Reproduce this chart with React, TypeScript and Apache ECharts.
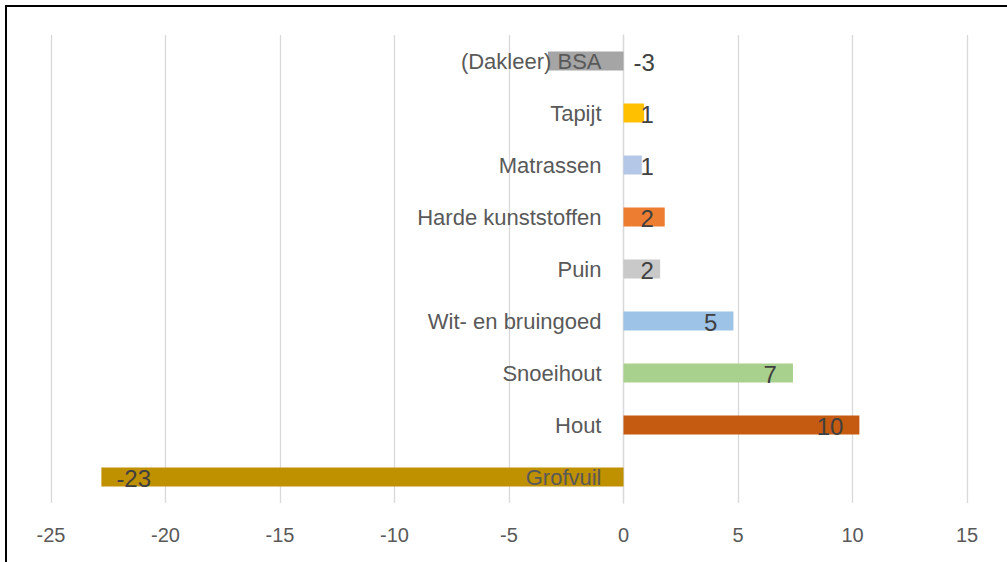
import React, { useEffect, useRef } from "react";
import * as echarts from "echarts";

const categories = [
  "Grofvuil",
  "Hout",
  "Snoeihout",
  "Wit- en bruingoed",
  "Puin",
  "Harde kunststoffen",
  "Matrassen",
  "Tapijt",
  "(Dakleer) BSA",
];
const values = [-22.8, 10.3, 7.4, 4.8, 1.6, 1.8, 0.8, 0.9, -3.3];
const labelTexts = ["-23", "10", "7", "5", "2", "2", "1", "1", "-3"];
const colors = [
  "#BF9000",
  "#C55A11",
  "#A9D18E",
  "#9DC3E6",
  "#C9C9C9",
  "#ED7D31",
  "#B4C7E7",
  "#FFC000",
  "#A5A5A5",
];
const xTicks = [-25, -20, -15, -10, -5, 0, 5, 10, 15];

const FONT = "Liberation Sans";

export default function App() {
  const ref = useRef<HTMLDivElement>(null);
  useEffect(() => {
    document.body.style.margin = "0";
    const chart = echarts.init(ref.current!, null, { renderer: "svg" });
    const data = values.map((v, i) => {
      let label: any;
      if (v < 0 && Math.abs(v) < 5) {
        label = { position: "right", distance: 10 };
      } else if (v < 0) {
        label = { position: "insideLeft", distance: 15 };
      } else if (v < 2.5) {
        label = { position: "insideLeft", distance: 17 };
      } else {
        label = { position: "insideRight", distance: 16 };
      }
      return {
        value: v,
        itemStyle: { color: colors[i] },
        label: { ...label, formatter: labelTexts[i] },
      };
    });
    chart.setOption({
      animation: false,
      textStyle: { fontFamily: FONT },
      grid: {
        left: 51,
        right: 40,
        top: 35,
        bottom: 59,
        containLabel: false,
        outerBoundsMode: "none",
      },
      graphic: [
        {
          type: "rect",
          shape: { x: 6, y: 6, width: 1010, height: 600 },
          style: { fill: "none", stroke: "#000", lineWidth: 2 },
          z: 100,
        },
      ],
      xAxis: {
        type: "value",
        min: xTicks[0],
        max: xTicks[xTicks.length - 1],
        interval: 5,
        axisLine: { show: false },
        axisTick: { show: false },
        splitLine: { show: true, lineStyle: { color: "#D9D9D9", width: 1.3 } },
        axisLabel: {
          color: "#595959",
          fontSize: 20,
          fontFamily: FONT,
          margin: 22,
        },
      },
      yAxis: {
        type: "category",
        data: categories,
        axisLine: { show: true, onZero: true, lineStyle: { color: "#D9D9D9", width: 1.3 } },
        axisTick: { show: false },
        axisLabel: { show: false },
      },
      series: [
        {
          type: "bar",
          data,
          barWidth: 19,
          z: 2,
          label: {
            show: true,
            color: "#404040",
            fontSize: 24,
            fontFamily: FONT,
            offset: [0, 1],
          },
        },
        {
          type: "bar",
          data: categories.map(() => 0),
          barWidth: 19,
          barGap: "-100%",
          z: 5,
          itemStyle: { color: "transparent" },
          label: {
            show: true,
            position: "left",
            distance: 22,
            color: "#595959",
            fontSize: 22,
            fontFamily: FONT,
            formatter: (p: any) => categories[p.dataIndex],
          },
        },
      ],
    });
    return () => chart.dispose();
  }, []);
  return <div ref={ref} style={{ width: 1007, height: 562 }} />;
}
